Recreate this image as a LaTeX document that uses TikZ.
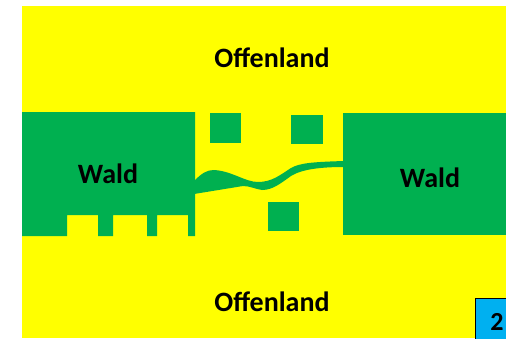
\documentclass[tikz,border=0pt]{standalone}
\usepackage{fontspec}
\setmainfont{Carlito}
\definecolor{offen}{HTML}{FFFF00}
\definecolor{wald}{HTML}{00B050}
\definecolor{nummer}{HTML}{00B0F0}
\begin{document}
\begin{tikzpicture}[x=1pt,y=-1pt]

        \useasboundingbox (0,0) rectangle (506,338);
        \fill[offen] (22,6) rectangle (506,338);

        \begin{scope}[every path/.style={fill=wald}]
          % Waldstuecke
          \path (22,112) -- (195,112) -- (195,236) -- (188,236) -- (188,215)
                -- (157,215) -- (157,236) -- (147,236) -- (147,215) -- (113,215)
                -- (113,236) -- (98,236) -- (98,215) -- (67,215) -- (67,236)
                -- (22,236) -- cycle;
          \path (343,113) rectangle (506,235);
          % Trittsteine
          \path (210,113) rectangle (241,143);
          \path (291,115) rectangle (323,144);
          \path (268,202) rectangle (299,231);
          % Korridor
          \path (194,181) .. controls (202,173) and (207,170) .. (214,170)
                .. controls (232,171) and (245,182) .. (258,182)
                .. controls (272,182) and (280,175) .. (291,168)
                .. controls (300,163) and (312,162) .. (344,161)
                -- (344,167) .. controls (322,167) and (302,169) .. (291,176)
                .. controls (281,183) and (273,190) .. (262,190)
                .. controls (255,189) and (250,186) .. (243,186)
                -- (194,194) -- cycle;
        \end{scope}

        \begin{scope}[every node/.style={font=\bfseries\fontsize{28}{28}\selectfont, inner sep=0pt}]
          \node (offen1) at (272,58) {Offenland};
          \node (offen2) at (272,302) {Offenland};
          \node (wald1)  at (108,174) {Wald};
          \node (wald2)  at (430,178) {Wald};
        \end{scope}

        \draw[fill=nummer, line width=1pt] (475.5,298.5) rectangle (510,345);
        \node[font=\bfseries\fontsize{26}{26}\selectfont, inner sep=0pt] (nr) at (497,322) {2};

      \end{tikzpicture}
\end{document}
